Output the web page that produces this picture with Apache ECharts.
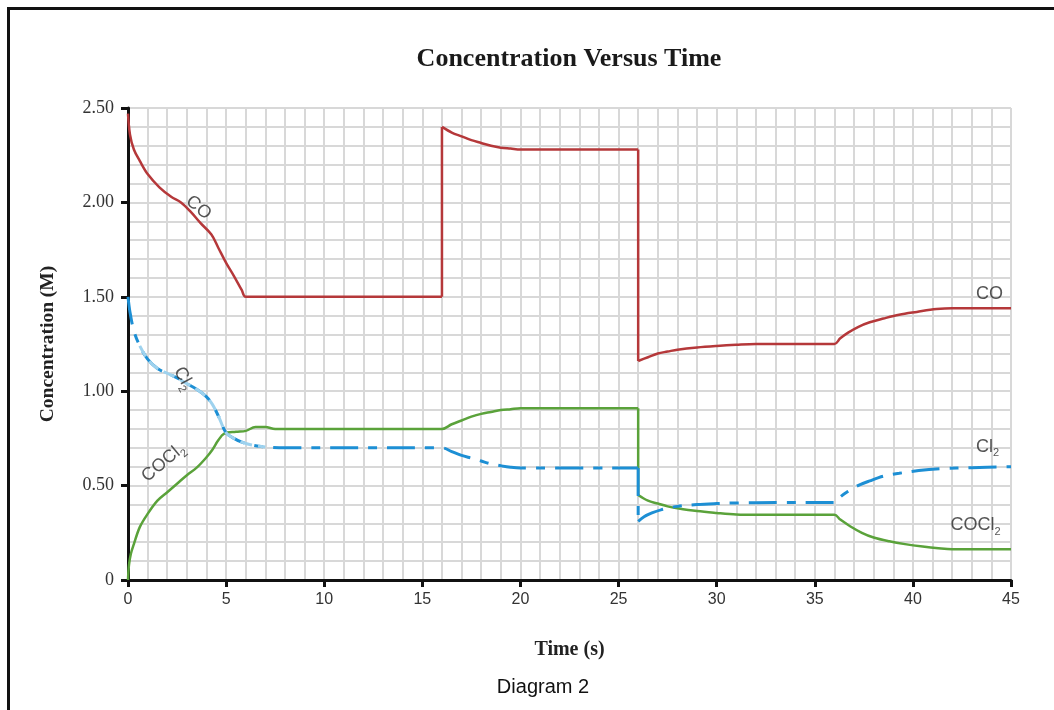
<!DOCTYPE html>
<html>
<head>
<meta charset="utf-8">
<script src="https://cdn.jsdelivr.net/npm/echarts@6/dist/echarts.min.js"></script>
<style>
html,body{margin:0;padding:0;background:#fff;}
#chart{width:1054px;height:710px;}
#frame{position:absolute;left:7px;top:7px;width:1200px;height:900px;border-top:3px solid #111;border-left:3px solid #111;pointer-events:none;}
</style>
</head>
<body>
<div id="chart"></div>
<div id="frame"></div>
<script>
// ---- data ----
const coTime = [0, 0.1, 0.3, 0.6, 1.0, 1.6, 2.2, 2.7, 3.2, 3.7, 4.25, 4.6, 5.0, 5.4, 5.8, 6.0, 16, 16, 16.5, 17, 17.5, 18, 18.5, 19, 19.5, 20, 26, 26, 26.5, 27, 27.5, 28, 29, 30, 31, 32, 36, 36.3, 36.7, 37.2, 37.8, 38.5, 39.3, 40.2, 41.2, 42, 45];
const coConc = [2.47, 2.36, 2.28, 2.22, 2.15, 2.08, 2.03, 2.0, 1.95, 1.89, 1.83, 1.76, 1.68, 1.61, 1.535, 1.50, 1.50, 2.40, 2.37, 2.35, 2.33, 2.315, 2.30, 2.29, 2.285, 2.28, 2.28, 1.16, 1.18, 1.20, 1.21, 1.22, 1.232, 1.24, 1.246, 1.25, 1.25, 1.28, 1.31, 1.34, 1.365, 1.385, 1.405, 1.42, 1.435, 1.44, 1.44];

const cl2Time = [0, 0.1, 0.3, 0.6, 1.0, 1.5, 2.0, 2.5, 3.0, 3.5, 4.0, 4.3, 4.6, 5.0, 5.4, 5.8, 6.3, 7.0, 8.0, 16, 16.5, 17, 17.5, 18, 18.5, 19, 19.5, 20, 26, 26, 26.3, 26.7, 27.2, 28, 29, 30, 31, 33, 36, 36.3, 36.7, 37.2, 37.8, 38.5, 39.3, 40.3, 41.5, 43, 45];
const cl2Conc = [1.50, 1.42, 1.32, 1.24, 1.17, 1.12, 1.095, 1.07, 1.04, 1.01, 0.97, 0.93, 0.87, 0.78, 0.75, 0.73, 0.715, 0.705, 0.70, 0.70, 0.68, 0.66, 0.645, 0.63, 0.615, 0.605, 0.597, 0.593, 0.593, 0.31, 0.335, 0.355, 0.373, 0.39, 0.40, 0.405, 0.408, 0.41, 0.41, 0.44, 0.47, 0.50, 0.525, 0.55, 0.565, 0.58, 0.59, 0.595, 0.60];

const cocl2Time = [0, 0.05, 0.15, 0.3, 0.6, 1.0, 1.5, 2.0, 2.5, 3.0, 3.5, 4.0, 4.3, 4.6, 4.9, 5.5, 6.0, 6.5, 7.0, 7.5, 8.0, 16, 16.5, 17, 17.5, 18, 18.5, 19, 19.5, 20, 26, 26, 26.5, 27, 27.5, 28, 29, 30, 31, 32, 36, 36.3, 36.8, 37.4, 38.0, 38.8, 39.6, 40.5, 41.3, 42, 45];
const cocl2Conc = [0.0, 0.08, 0.14, 0.19, 0.28, 0.35, 0.42, 0.465, 0.51, 0.555, 0.595, 0.65, 0.69, 0.74, 0.775, 0.785, 0.79, 0.81, 0.81, 0.80, 0.80, 0.80, 0.825, 0.845, 0.865, 0.88, 0.89, 0.90, 0.905, 0.91, 0.91, 0.45, 0.42, 0.405, 0.39, 0.38, 0.365, 0.355, 0.347, 0.345, 0.345, 0.32, 0.285, 0.25, 0.225, 0.205, 0.19, 0.177, 0.168, 0.163, 0.163];

const xTicks = [0, 5, 10, 15, 20, 25, 30, 35, 40, 45];
const yTickLabels = {0: '0', 0.5: '0.50', 1: '1.00', 1.5: '1.50', 2: '2.00', 2.5: '2.50'};

// curve annotations: text, time, concentration, rotation
const labelText = ['{b|CO}', '{b|Cl}{s|2}', '{b|COCl}{s|2}', '{b|CO}', '{b|Cl}{s|2}', '{b|COCl}{s|2}'];
const labelTime = [3.5, 2.7, 1.9, 43.9, 43.8, 43.2];
const labelConc = [1.96, 1.06, 0.61, 1.50, 0.69, 0.275];
const labelRot = [-40, -62, 40, 0, 0, 0];

// ---- helpers ----
const zip = (a, b) => a.map((v, i) => [v, b[i]]);
// split a curve into smooth pieces and vertical jumps (where time repeats)
function split(times, concs) {
  const pts = zip(times, concs);
  const pieces = [], jumps = [];
  let cur = [pts[0]];
  for (let i = 1; i < pts.length; i++) {
    if (pts[i][0] === pts[i - 1][0]) {
      pieces.push(cur);
      jumps.push([pts[i - 1], pts[i]]);
      cur = [pts[i]];
    } else cur.push(pts[i]);
  }
  pieces.push(cur);
  return {pieces, jumps};
}
function curveSeries(name, times, concs, lineStyle, z) {
  const s = split(times, concs);
  const out = [];
  s.pieces.forEach(p => out.push({name, type: 'line', data: p, showSymbol: false, smooth: 0.35, z, lineStyle}));
  s.jumps.forEach(p => out.push({name, type: 'line', data: p, showSymbol: false, smooth: false, z, lineStyle}));
  return out;
}

const serif = 'Liberation Serif, Times New Roman, serif';
const sans = 'Liberation Sans, Arial, sans-serif';

const cl2Faded = zip(cl2Time, cl2Conc).filter(p => p[0] >= 0.6 && p[0] <= 7.5);

const series = [].concat(
  curveSeries('CO', coTime, coConc, {color: '#b5383a', width: 2.5}, 3),
  curveSeries('COCl2', cocl2Time, cocl2Conc, {color: '#5aa23a', width: 2.5}, 3),
  curveSeries('Cl2', cl2Time, cl2Conc, {color: '#1d8fd4', width: 3, type: [28, 10, 9, 10]}, 4),
  [{name: 'Cl2', type: 'line', data: cl2Faded, showSymbol: false, smooth: 0.35, z: 5,
    lineStyle: {color: '#9ed2ee', width: 3, type: [12, 6]}}],
  [{name: 'labels', type: 'scatter', symbolSize: 1, silent: true, z: 10,
    itemStyle: {color: 'rgba(0,0,0,0)'},
    data: labelTime.map((t, i) => ({
      value: [t, labelConc[i]],
      label: {show: true, position: 'inside', formatter: labelText[i], rotate: labelRot[i],
        rich: {
          b: {fontFamily: sans, fontSize: 18, color: '#2a2a2a', verticalAlign: 'top', lineHeight: 24},
          s: {fontFamily: sans, fontSize: 11, color: '#2a2a2a', verticalAlign: 'top', lineHeight: 24, padding: [10, 0, 0, 0]}
        }}
    }))}]
);

const chart = echarts.init(document.getElementById('chart'));
chart.setOption({
  animation: false,
  backgroundColor: '#fff',
  title: [
    {text: 'Concentration Versus Time', left: 564, top: 41, textAlign: 'center',
     textStyle: {fontFamily: serif, fontWeight: 'bold', fontSize: 26, color: '#1a1a1a'}},
    {text: 'Diagram 2', left: 538, top: 672, textAlign: 'center',
     textStyle: {fontFamily: sans, fontWeight: 'normal', fontSize: 20, color: '#111'}}
  ],
  grid: {left: 128, right: 43, top: 108, bottom: 130, containLabel: false},
  xAxis: {
    type: 'value', min: 0, max: 45, interval: 5,
    name: 'Time (s)', nameLocation: 'middle', nameGap: 60,
    nameTextStyle: {fontFamily: serif, fontWeight: 'bold', fontSize: 20, color: '#222'},
    axisLine: {show: true, lineStyle: {color: '#111', width: 3}},
    axisTick: {show: true, length: 7, lineStyle: {color: '#111', width: 3}},
    axisLabel: {margin: 12, fontFamily: sans, fontSize: 16, color: '#333',
      formatter: v => xTicks.includes(v) ? String(v) : ''},
    splitLine: {show: true, lineStyle: {color: '#d8d8d8', width: 2}},
    minorTick: {show: false, splitNumber: 5},
    minorSplitLine: {show: true, lineStyle: {color: '#d8d8d8', width: 2}}
  },
  yAxis: {
    type: 'value', min: 0, max: 2.5, interval: 0.5,
    name: 'Concentration (M)', nameLocation: 'middle', nameGap: 70, nameRotate: 90,
    nameTextStyle: {fontFamily: serif, fontWeight: 'bold', fontSize: 19.5, color: '#222'},
    axisLine: {show: true, lineStyle: {color: '#111', width: 3}},
    axisTick: {show: true, length: 7, lineStyle: {color: '#111', width: 3}},
    axisLabel: {margin: 14, fontFamily: serif, fontSize: 18, color: '#333',
      formatter: v => yTickLabels[Math.round(v * 10) / 10] ?? ''},
    splitLine: {show: true, lineStyle: {color: '#d8d8d8', width: 2}},
    minorTick: {show: false, splitNumber: 5},
    minorSplitLine: {show: true, lineStyle: {color: '#d8d8d8', width: 2}}
  },
  series
});
</script>
</body>
</html>
